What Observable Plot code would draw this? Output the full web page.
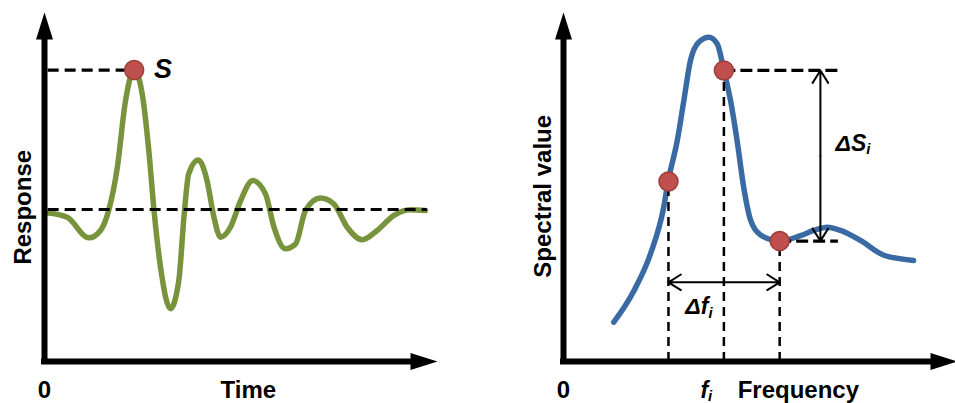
<!DOCTYPE html>
<html>
<head>
<meta charset="utf-8">
<script src="https://cdn.jsdelivr.net/npm/d3@7"></script>
<script src="https://cdn.jsdelivr.net/npm/@observablehq/plot@0.6"></script>
<style>
  html, body { margin: 0; padding: 0; background: #fff; }
  #wrap { display: flex; width: 955px; height: 403px; overflow: hidden; }
  #wrap svg { overflow: visible; flex: none; }
</style>
</head>
<body>
<div id="wrap"></div>
<script>
// ---------- Left panel: time response (arbitrary units, axes 0–100) ----------
const timeT = [0.7, 6.2, 12.1, 15.3, 17.6, 19.9, 22.1, 24.5, 26.7, 28.5, 29.9, 31.7, 34.4, 36.7, 38.1, 39.4, 42.0, 44.4, 46.3, 48.1, 50.8, 53.6, 56.9, 60.4, 62.7, 65.8, 68.6, 71.3, 75.4, 79.0, 82.7, 86.8, 90.9, 95.4, 100.0, 104.1];
const responseR = [46.2, 44.8, 38.4, 40.7, 47.2, 60.3, 80.7, 90.5, 83.1, 65.5, 47.2, 29.3, 16.4, 25.2, 44.8, 58.3, 62.6, 56.2, 44.8, 38.6, 41.7, 50.0, 56.2, 52.0, 41.7, 35.0, 36.5, 46.9, 50.8, 49.0, 41.7, 37.8, 40.7, 45.3, 47.1, 46.9];
const baselineResponse = 47.2;
const baselineSpan = [1.0, 104.6];
const peakTime = 24.5;
const peakResponse = 90.5;
const leftLabelText = ["S", "0", "Time", "Response"];
const leftLabelX = [32.4, 0, 55.7, -5.7];
const leftLabelY = [90.8, -8.8, -8.8, 47.9];

// ---------- Right panel: spectrum (arbitrary units, axes 0–100) ----------
const freqF = [13.7, 19.2, 23.7, 27.3, 28.5, 31.0, 32.8, 34.6, 36.9, 39.6, 41.9, 43.7, 45.5, 47.3, 49.1, 51.0, 53.7, 58.9, 64.6, 68.2, 71.9, 75.5, 80.9, 87.3, 95.4];
const spectralS = [12.2, 22.0, 33.4, 47.9, 55.9, 68.6, 81.1, 93.5, 99.2, 100.7, 98.6, 90.4, 81.1, 68.6, 54.1, 43.8, 39.3, 37.4, 39.1, 40.7, 41.7, 40.7, 37.6, 33.0, 31.4];
const markedF = [28.6, 43.7, 58.9];
const markedS = [55.9, 90.4, 37.4];
const levelEndF = [76.0, 74.9];          // ends of the dashed levels from points 2 and 3
const deltaSX = 70.0;                    // ΔS arrow position
const deltaFY = 24.6;                    // Δf arrow position
const rightLabelText = ["ΔS_i", "Δf_i", "0", "f_i", "Frequency", "Spectral value"];
const rightLabelX = [74.1, 33.2, 0, 37.3, 64.0, -5.6];
const rightLabelY = [67.8, 16.9, -8.8, -8.9, -8.8, 51.3];

// ---------- shared helpers ----------
const FONT = "Liberation Sans, Arial, DejaVu Sans, sans-serif";
const arrowHead = {
  draw(ctx) { ctx.moveTo(0, -27); ctx.lineTo(8.5, 0); ctx.lineTo(-8.5, 0); ctx.closePath(); }
};
function axisMarks() {
  return [
    Plot.ruleX([0], {y1: 0, y2: 100, stroke: "black", strokeWidth: 6, strokeLinecap: "square"}),
    Plot.ruleY([0], {x1: 0, x2: 100, stroke: "black", strokeWidth: 6, strokeLinecap: "square"}),
    Plot.dot([{x: 0, y: 100}], {x: "x", y: "y", symbol: arrowHead, fill: "black", stroke: "none"}),
    Plot.dot([{x: 100, y: 0}], {x: "x", y: "y", symbol: arrowHead, rotate: 90, fill: "black", stroke: "none"})
  ];
}
function textMarks(texts, xs, ys) {
  const rows = texts.map((t, i) => ({t, x: xs[i], y: ys[i]}));
  const marks = [];
  const styleOf = (t) => {
    if (t === "S") return {fontSize: 27, fontStyle: "italic", textAnchor: "middle"};
    if (t === "ΔS_i" || t === "Δf_i") return {fontSize: 23, fontStyle: "italic", textAnchor: "start"};
    if (t === "f_i") return {fontSize: 23, fontStyle: "italic", textAnchor: "start"};
    if (t === "Response" || t === "Spectral value") return {fontSize: 24, rotate: -90, textAnchor: "middle"};
    return {fontSize: 24, textAnchor: "middle"};
  };
  for (const r of rows) {
    marks.push(Plot.text([r], {x: "x", y: "y", text: "t", fill: "black", fontFamily: FONT, fontWeight: "bold", ...styleOf(r.t)}));
  }
  return marks;
}
function applySubscripts(svg) {
  d3.select(svg).selectAll("text").each(function () {
    const t = this.textContent;
    const k = t.indexOf("_");
    if (k < 0) return;
    const sel = d3.select(this);
    sel.text(null);
    sel.append("tspan").text(t.slice(0, k));
    sel.append("tspan").attr("font-size", "65%").attr("dy", "0.25em").text(t.slice(k + 1));
  });
  return svg;
}

// ---------- Left chart ----------
const responseData = timeT.map((t, i) => ({t, r: responseR[i]}));
const left = Plot.plot({
  width: 477, height: 403,
  marginLeft: 44, marginRight: 67, marginTop: 39, marginBottom: 42,
  x: {domain: [0, 100], axis: null},
  y: {domain: [0, 100], axis: null},
  style: {background: "white", overflow: "visible"},
  marks: [
    Plot.line(responseData, {x: "t", y: "r", curve: "monotone-x", stroke: "#77933c", strokeWidth: 5.5}),
    Plot.ruleY([{y: baselineResponse, x1: baselineSpan[0], x2: baselineSpan[1]}], {y: "y", x1: "x1", x2: "x2", stroke: "black", strokeWidth: 3.2, strokeDasharray: "11,6"}),
    Plot.ruleY([{y: peakResponse, x1: baselineSpan[0], x2: peakTime}], {y: "y", x1: "x1", x2: "x2", stroke: "black", strokeWidth: 3.2, strokeDasharray: "11,6"}),
    Plot.dot([{t: peakTime, r: peakResponse}], {x: "t", y: "r", r: 9.5, fill: "#c0504d", stroke: "#a03e3b", strokeWidth: 1.5}),
    ...axisMarks(),
    ...textMarks(leftLabelText, leftLabelX, leftLabelY)
  ]
});

// ---------- Right chart ----------
const spectrumData = freqF.map((f, i) => ({f, s: spectralS[i]}));
const marked = markedF.map((f, i) => ({f, s: markedS[i]}));
const levels = [
  {f: markedF[1], s: markedS[1], end: levelEndF[0]},
  {f: markedF[2], s: markedS[2], end: levelEndF[1]}
];
const midS = (markedS[1] + markedS[2]) / 2;
const midF = (markedF[0] + markedF[2]) / 2;
const arrows = [
  {x1: deltaSX, y1: midS, x2: deltaSX, y2: markedS[1]},
  {x1: deltaSX, y1: midS, x2: deltaSX, y2: markedS[2]},
  {x1: midF, y1: deltaFY, x2: markedF[0], y2: deltaFY},
  {x1: midF, y1: deltaFY, x2: markedF[2], y2: deltaFY}
];
const right = Plot.plot({
  width: 478, height: 403,
  marginLeft: 86, marginRight: 25, marginTop: 39, marginBottom: 42,
  x: {domain: [0, 100], axis: null},
  y: {domain: [0, 100], axis: null},
  style: {background: "white", overflow: "visible"},
  marks: [
    Plot.line(spectrumData, {x: "f", y: "s", curve: "monotone-x", stroke: "#3a6aa3", strokeWidth: 5.5}),
    Plot.ruleX(marked, {x: "f", y1: 0, y2: "s", stroke: "black", strokeWidth: 2.5, strokeDasharray: "9,6"}),
    Plot.ruleY(levels, {y: "s", x1: "f", x2: "end", stroke: "black", strokeWidth: 3.2, strokeDasharray: "12,5"}),
    Plot.arrow(arrows, {x1: "x1", y1: "y1", x2: "x2", y2: "y2", stroke: "black", strokeWidth: 2, headLength: 11, headAngle: 64}),
    Plot.dot(marked, {x: "f", y: "s", r: 9.5, fill: "#c0504d", stroke: "#a03e3b", strokeWidth: 1.5}),
    ...axisMarks(),
    ...textMarks(rightLabelText, rightLabelX, rightLabelY)
  ]
});

const wrap = document.getElementById("wrap");
wrap.appendChild(applySubscripts(left));
wrap.appendChild(applySubscripts(right));
</script>
</body>
</html>
